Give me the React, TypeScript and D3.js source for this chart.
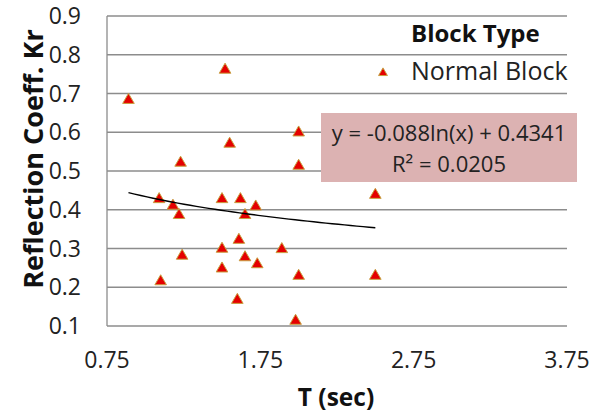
import React from "react";
import * as d3 from "d3";

// T (sec) and reflection coefficient Kr
const tValues = [
  0.89, 1.52, 2.0, 1.55, 1.23, 2.0, 2.5, 1.09, 1.18, 1.22, 1.5, 1.62, 1.72,
  1.65, 1.61, 1.5, 1.89, 1.24, 1.65, 1.73, 1.5, 2.0, 2.5, 1.1, 1.6, 1.98,
];
const krValues = [
  0.683, 0.761, 0.599, 0.57, 0.521, 0.513, 0.438, 0.427, 0.41, 0.386, 0.427,
  0.427, 0.408, 0.386, 0.322, 0.299, 0.298, 0.281, 0.277, 0.259, 0.248, 0.229,
  0.229, 0.215, 0.167, 0.113,
];
const xTicks = [0.75, 1.75, 2.75, 3.75];
const yTicks = [0.1, 0.2, 0.3, 0.4, 0.5, 0.6, 0.7, 0.8, 0.9];
const trendA = -0.088;
const trendB = 0.4341;
const trendText = "y = -0.088ln(x) + 0.4341";
const r2Text = "0.0205";

const W = 601;
const H = 419;
const font = "'Open Sans', sans-serif";

export default function App() {
  const x = d3.scaleLinear().domain([0.75, 3.75]).range([107, 567]);
  const y = d3.scaleLinear().domain([0.1, 0.9]).range([326, 16]);

  const tri = d3.symbol(d3.symbolTriangle, 58)()!;
  const legendTri = d3.symbol(d3.symbolTriangle, 34)()!;

  const [tMin, tMax] = d3.extent(tValues) as [number, number];
  const trendPts = d3.range(0, 41).map((i) => tMin + ((tMax - tMin) * i) / 40);
  const line = d3
    .line<number>()
    .x((t) => x(t))
    .y((t) => y(trendA * Math.log(t) + trendB));

  return (
    <svg width={W} height={H} style={{ position: "absolute", left: 0, top: 0 }}>
      <rect width={W} height={H} fill="#fff" />
      {yTicks.map((v) => (
        <g key={v}>
          <line x1={x(0.75)} x2={x(3.75)} y1={y(v)} y2={y(v)} stroke="#8c8c8c" strokeWidth={1.3} />
          <text x={81} y={y(v)} dy="0.35em" textAnchor="end" fontFamily={font} fontSize={23} fill="#222">
            {v.toFixed(1)}
          </text>
        </g>
      ))}
      <line x1={x(0.75)} x2={x(0.75)} y1={y(0.1)} y2={y(0.9)} stroke="#8c8c8c" strokeWidth={1.3} />
      {xTicks.map((v) => (
        <text key={v} x={x(v)} y={368} textAnchor="middle" fontFamily={font} fontSize={23} fill="#222">
          {v.toFixed(2)}
        </text>
      ))}
      <text x={336} y={406} textAnchor="middle" fontFamily={font} fontSize={24.5} fontWeight="bold" fill="#111">
        T (sec)
      </text>
      <text
        transform={`translate(43,159) rotate(-90)`}
        textAnchor="middle"
        fontFamily={font}
        fontSize={27}
        fontWeight="bold"
        fill="#111"
      >
        Reflection Coeff. Kr
      </text>

      {tValues.map((t, i) => (
        <path
          key={i}
          d={tri}
          transform={`translate(${x(t)},${y(krValues[i])})`}
          fill="#e50000"
          stroke="#c8a040"
          strokeWidth={1}
        />
      ))}
      <path d={line(trendPts) ?? ""} fill="none" stroke="#000" strokeWidth={1.4} />

      <rect x={321} y={113} width={256} height={69} fill="#dcb2b2" />
      <text x={449} y={141} textAnchor="middle" fontFamily={font} fontSize={22} fill="#222">
        {trendText}
      </text>
      <text x={449} y={172} textAnchor="middle" fontFamily={font} fontSize={22} fill="#222">
        R² = {r2Text}
      </text>

      <text x={411} y={42} fontFamily={font} fontSize={24} fontWeight="bold" fill="#111">
        Block Type
      </text>
      <path d={legendTri} transform="translate(383,73)" fill="#e50000" stroke="#c8a040" strokeWidth={1} />
      <text x={411} y={80} fontFamily={font} fontSize={25} fill="#222">
        Normal Block
      </text>
    </svg>
  );
}
